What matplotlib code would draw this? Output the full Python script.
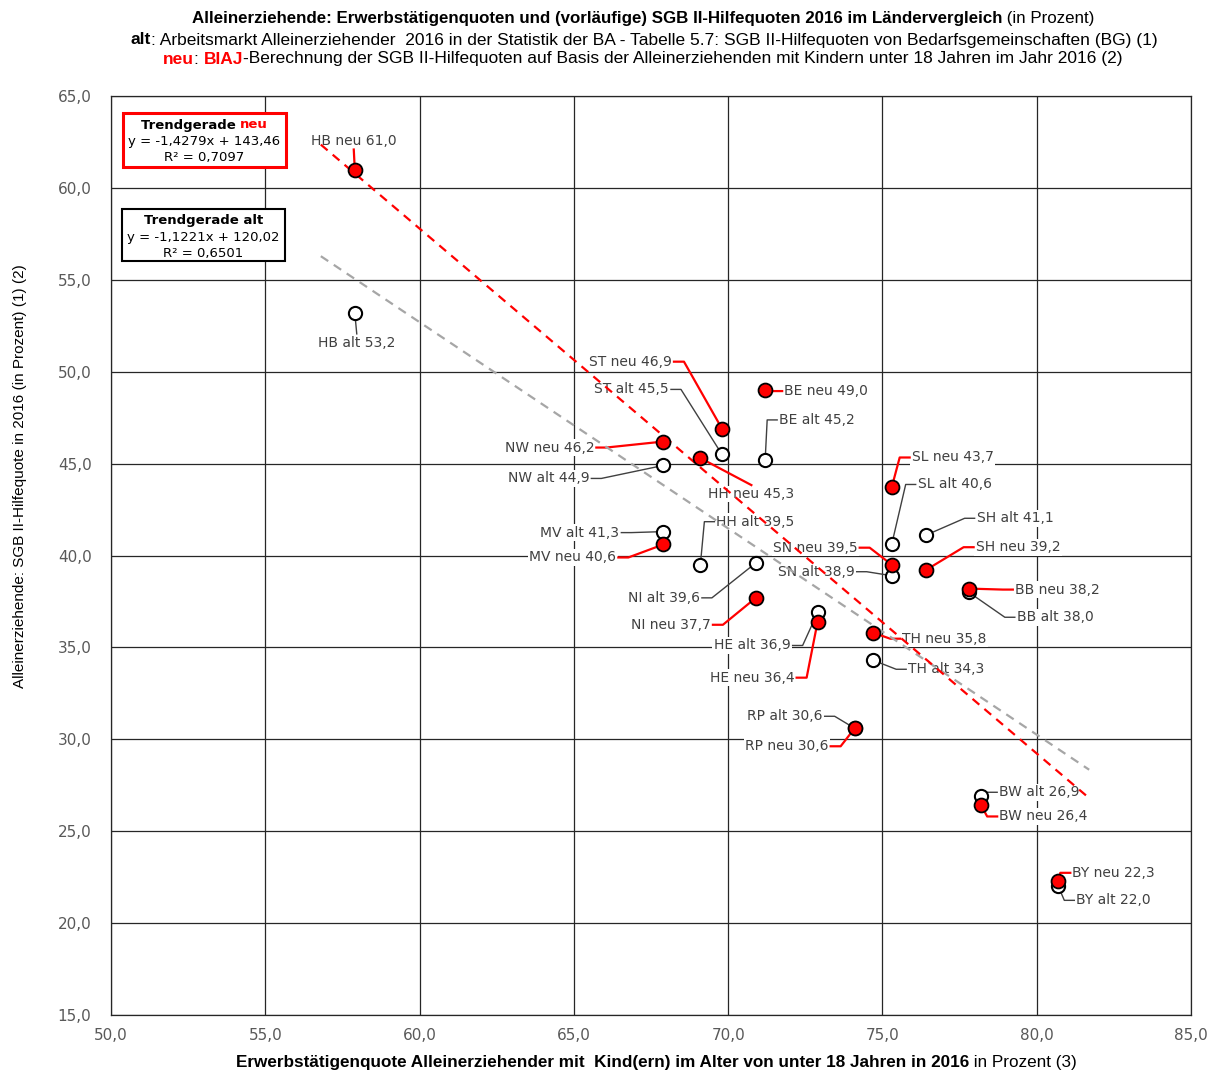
import numpy as np
import matplotlib
matplotlib.use("Agg")
import matplotlib.pyplot as plt
from matplotlib.patches import Rectangle

laender = ["HB", "ST", "BE", "NW", "HH", "SL", "MV", "SN",
           "SH", "BB", "NI", "HE", "TH", "RP", "BW", "BY"]
erwerb = [57.9, 69.8, 71.2, 67.9, 69.1, 75.3, 67.9, 75.3,
          76.4, 77.8, 70.9, 72.9, 74.7, 74.1, 78.2, 80.7]
quote_neu = [61.0, 46.9, 49.0, 46.2, 45.3, 43.7, 40.6, 39.5,
             39.2, 38.2, 37.7, 36.4, 35.8, 30.6, 26.4, 22.3]
quote_alt = [53.2, 45.5, 45.2, 44.9, 39.5, 40.6, 41.3, 38.9,
             41.1, 38.0, 39.6, 36.9, 34.3, 30.6, 26.9, 22.0]

# Trendgeraden (Steigung, Achsenabschnitt, R2)
trend_neu = (-1.4279, 143.46, 0.7097)
trend_alt = (-1.1221, 120.02, 0.6501)

x_ticks = [50, 55, 60, 65, 70, 75, 80, 85]
x_ticklabels = ["50,0", "55,0", "60,0", "65,0", "70,0", "75,0", "80,0", "85,0"]
y_ticks = [15, 20, 25, 30, 35, 40, 45, 50, 55, 60, 65]
y_ticklabels = ["15,0", "20,0", "25,0", "30,0", "35,0", "40,0",
                "45,0", "50,0", "55,0", "60,0", "65,0"]

# Lage der Beschriftungen (Pixelversatz zum Punkt, Ausrichtung)
pos_neu = [(-1, 29, "center"), (-48, 67, "right"), (17, -1, "left"), (-67, -6, "right"),
           (51, -36, "center"), (18, 30, "left"), (-45, -13, "right"), (-32, 17, "right"),
           (48, 23, "left"), (44, -1, "left"), (-43, -27, "right"), (-21, -56, "right"),
           (27, -6, "left"), (-24, -18, "right"), (16, -11, "left"), (12, 8, "left")]
pos_alt = [(2, -30, "center"), (-51, 65, "right"), (12, 40, "left"), (-72, -13, "right"),
           (14, 43, "left"), (24, 60, "left"), (-42, -1, "right"), (-35, 4, "right"),
           (49, 17, "left"), (46, -25, "left"), (-54, -35, "right"), (-25, -33, "right"),
           (33, -9, "left"), (-30, 12, "right"), (16, 4, "left"), (16, -14, "left")]

plt.rcParams['font.family'] = ['DejaVu Sans']

W, H = 1215, 1071
fig = plt.figure(figsize=(W / 100, H / 100), dpi=100)
ax = fig.add_axes([111 / W, 1 - 1015 / H, (1191 - 111) / W, (1015 - 96) / H])
ax.set_xlim(50, 85)
ax.set_ylim(15, 65)
ax.set_xticks(x_ticks)
ax.set_xticklabels(x_ticklabels)
ax.set_yticks(y_ticks)
ax.set_yticklabels(y_ticklabels)
ax.tick_params(length=0, labelsize=11, labelcolor="#595959")
ax.tick_params(axis="y", pad=14)
ax.tick_params(axis="x", pad=9)
ax.grid(True, color="#262626", lw=0.9, zorder=0)
ax.set_axisbelow(True)
for s in ax.spines.values():
    s.set_color("#262626")
    s.set_linewidth(0.9)

to_px = ax.transData.transform
to_dat = ax.transData.inverted().transform


def beschriften(x, y, text, dx, dy, ha, farbe, lw):
    px, py = to_px((x, y))
    axp, ayp = px + dx, py + dy
    if ha == "center":
        ende = (axp, ayp - 9 if dy > 0 else ayp + 9)
        pfad = [(px, py), ende]
    else:
        s = 1 if ha == "right" else -1
        pfad = [(px, py), (axp + 10 * s, ayp), (axp, ayp)]
        axp -= 2 * s
    pfad = to_dat(np.array(pfad))
    ax.plot(pfad[:, 0], pfad[:, 1], color=farbe, lw=lw, zorder=2.5)
    tx, ty = to_dat((axp, ayp))
    ax.text(tx, ty, text, ha=ha, va="center", fontsize=10, color="#404040", zorder=2,
            bbox=dict(fc="white", ec="none", pad=1))


for i, land in enumerate(laender):
    dx, dy, ha = pos_alt[i]
    beschriften(erwerb[i], quote_alt[i], f"{land} alt {quote_alt[i]:.1f}".replace(".", ","),
                dx, dy, ha, "#404040", 1.0)
    dx, dy, ha = pos_neu[i]
    beschriften(erwerb[i], quote_neu[i], f"{land} neu {quote_neu[i]:.1f}".replace(".", ","),
                dx, dy, ha, "#ff0000", 1.6)

# Trendgeraden
xt = np.array([min(erwerb) - 1.1, max(erwerb) + 1.0])
ax.plot(xt, trend_alt[0] * xt + trend_alt[1], color="#a6a6a6", lw=1.6,
        dashes=(4, 3), zorder=3)
ax.plot(xt, trend_neu[0] * xt + trend_neu[1], color="#ff0000", lw=1.6,
        dashes=(4, 3), zorder=3)

ax.plot(erwerb, quote_alt, "o", ms=9.5, mfc="white", mec="black", mew=1.5, zorder=4)
ax.plot(erwerb, quote_neu, "o", ms=10, mfc="#ff0000", mec="black", mew=1.3, zorder=5)

renderer = fig.canvas.get_renderer()


def zeile(cx, cy, teile, size, family="DejaVu Sans"):
    objs = [fig.text(0, 1 - cy / H, t, color=c, fontweight=w, fontsize=size,
                     va="center", family=family) for t, w, c in teile]
    breiten = [o.get_window_extent(renderer).width for o in objs]
    x = cx - sum(breiten) / 2
    for o, b in zip(objs, breiten):
        o.set_x(x / W)
        x += b


tf = "Liberation Sans"
zeile(643, 19, [("Alleinerziehende: Erwerbstätigenquoten und (vorläufige) SGB II-Hilfequoten 2016 im Ländervergleich", "bold", "black"),
                (" (in Prozent)", "normal", "black")], 12.2, tf)
zeile(644, 40, [("alt", "bold", "black"),
                (": Arbeitsmarkt Alleinerziehender  2016 in der Statistik der BA - Tabelle 5.7: SGB II-Hilfequoten von Bedarfsgemeinschaften (BG) (1)", "normal", "black")], 12.5, tf)
zeile(643, 59, [("neu", "bold", "#ff0000"), (": ", "normal", "black"), ("BIAJ", "bold", "#ff0000"),
                ("-Berechnung der SGB II-Hilfequoten auf Basis der Alleinerziehenden mit Kindern unter 18 Jahren im Jahr 2016 (2)", "normal", "black")], 12.5, tf)

zeile(656, 1062, [("Erwerbstätigenquote Alleinerziehender mit  Kind(ern) im Alter von unter 18 Jahren in 2016", "bold", "black"),
                  (" in Prozent (3)", "normal", "black")], 12.3, tf)
fig.text(20 / W, 1 - 476 / H, "Alleinerziehende: SGB II-Hilfequote in 2016 (in Prozent) (1) (2)",
         rotation=90, ha="center", va="center", fontsize=11, family="Liberation Sans")

# Kaesten mit Trendgleichungen
for (x0, y0, x1, y1), farbe, lw, tr, teile in [
        ((123, 113, 286, 167), "#ff0000", 2.2, trend_neu,
         [("Trendgerade ", "bold", "black"), ("neu", "bold", "#ff0000")]),
        ((122, 209, 285, 261), "black", 1.5, trend_alt,
         [("Trendgerade alt", "bold", "black")])]:
    fig.patches.append(Rectangle((x0 / W, 1 - y1 / H), (x1 - x0) / W, (y1 - y0) / H,
                                 transform=fig.transFigure, fc="white", ec=farbe, lw=lw))
    cx = (x0 + x1) / 2
    zeile(cx, y0 + 12, teile, 9.5)
    zeile(cx, y0 + 28, [(f"y = {tr[0]:.4f}x + {tr[1]:.2f}".replace(".", ","), "normal", "black")], 9.5)
    zeile(cx, y0 + 44, [(f"R² = {tr[2]:.4f}".replace(".", ","), "normal", "black")], 9.5)

fig.savefig("out.png", dpi=100)
